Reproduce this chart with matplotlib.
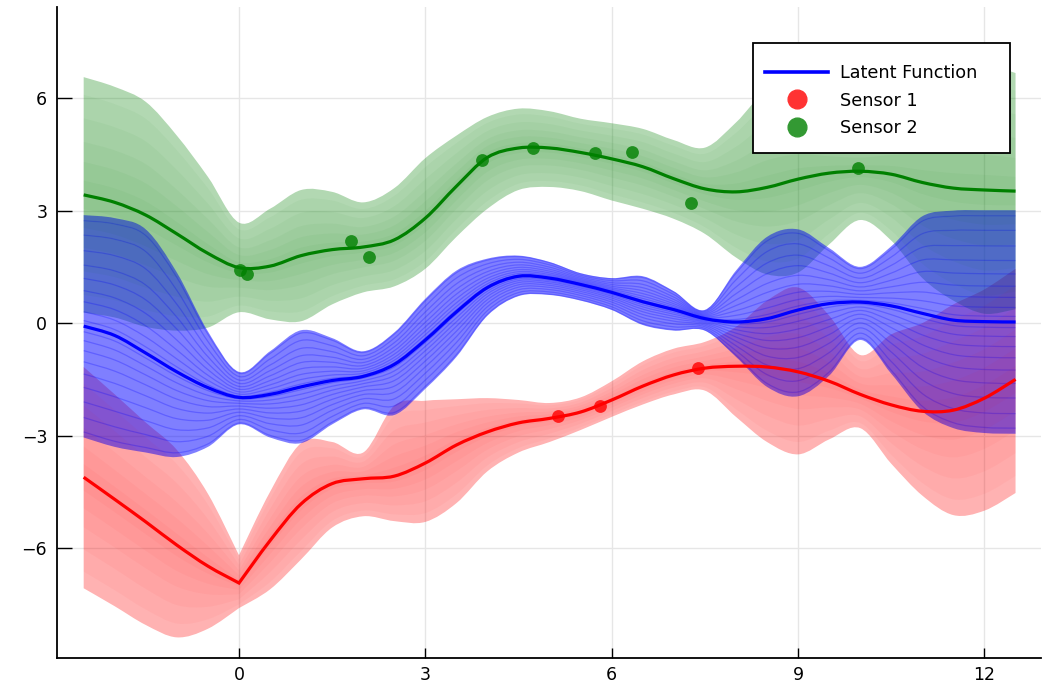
import numpy as np
import matplotlib
matplotlib.use("Agg")
import matplotlib.pyplot as plt
from matplotlib.lines import Line2D
from matplotlib.path import Path
from matplotlib.patches import PathPatch, Rectangle

# ---------------- data ----------------
x_grid = [-2.5, -2.0, -1.5, -1.0, -0.5, 0.0, 0.5, 1.0, 1.5, 2.0, 2.5, 3.0, 3.5,
          4.0, 4.5, 5.0, 5.5, 6.0, 6.5, 7.0, 7.5, 8.0, 8.5, 9.0, 9.5, 10.0,
          10.5, 11.0, 11.5, 12.0, 12.5]

latent_mean = [-0.08, -0.33, -0.80, -1.30, -1.72, -1.98, -1.90, -1.70, -1.53, -1.42,
               -1.10, -0.45, 0.30, 0.95, 1.25, 1.20, 1.03, 0.82, 0.57, 0.36, 0.12,
               0.03, 0.12, 0.35, 0.52, 0.56, 0.46, 0.26, 0.08, 0.04, 0.03]
latent_upper = [2.88, 2.80, 2.50, 1.35, -0.22, -1.30, -0.75, -0.19, -0.40, -0.75,
                -0.25, 0.65, 1.40, 1.72, 1.80, 1.63, 1.33, 1.20, 1.25, 0.85, 0.35,
                1.40, 2.30, 2.50, 2.00, 1.50, 2.05, 2.85, 3.00, 3.01, 3.01]
latent_lower = [-3.05, -3.30, -3.45, -3.57, -3.30, -2.70, -3.05, -3.20, -2.70, -2.30,
                -2.45, -1.75, -0.90, 0.20, 0.72, 0.75, 0.60, 0.35, -0.05, -0.20, -0.20,
                -0.90, -1.70, -1.95, -1.40, -0.45, -1.35, -2.35, -2.80, -2.93, -2.95]

s1_mean = [-4.11, -4.70, -5.30, -5.92, -6.48, -6.93, -5.80, -4.82, -4.28, -4.15,
           -4.08, -3.73, -3.25, -2.90, -2.66, -2.54, -2.37, -2.05, -1.68, -1.38, -1.20,
           -1.15, -1.17, -1.30, -1.55, -1.90, -2.18, -2.35, -2.32, -2.00, -1.50]
s1_upper = [-1.17, -1.90, -2.65, -3.38, -4.55, -6.19, -4.50, -3.20, -3.17, -3.45,
            -2.20, -2.07, -2.03, -2.00, -2.05, -2.13, -1.98, -1.55, -1.02, -0.68, -0.50,
            -0.10, 0.60, 0.95, 0.20, -0.85, -0.30, 0.00, 0.50, 0.90, 1.45]
s1_lower = [-7.07, -7.55, -8.05, -8.38, -8.15, -7.60, -7.10, -6.30, -5.45, -5.15,
            -5.28, -5.30, -4.80, -3.95, -3.45, -3.17, -2.85, -2.50, -2.17, -1.90, -1.80,
            -2.50, -3.17, -3.50, -3.10, -2.80, -3.75, -4.60, -5.12, -5.00, -4.53]

s2_mean = [3.42, 3.22, 2.88, 2.38, 1.86, 1.48, 1.52, 1.80, 1.96, 2.03,
           2.22, 2.80, 3.65, 4.42, 4.67, 4.67, 4.55, 4.38, 4.17, 3.85, 3.58,
           3.50, 3.62, 3.84, 4.00, 4.05, 3.97, 3.75, 3.60, 3.55, 3.52]
s2_upper = [6.56, 6.30, 5.90, 5.00, 3.90, 2.68, 3.05, 3.55, 3.50, 3.22,
            3.60, 4.40, 5.00, 5.50, 5.72, 5.65, 5.45, 5.33, 5.18, 4.88, 4.68,
            5.35, 6.20, 6.20, 5.60, 5.35, 5.80, 6.50, 6.90, 6.90, 6.67]
s2_lower = [0.28, 0.15, -0.10, -0.20, -0.12, 0.29, 0.10, 0.05, 0.50, 0.82,
            0.98, 1.45, 2.30, 3.05, 3.55, 3.63, 3.52, 3.27, 3.05, 2.78, 2.38,
            1.75, 1.30, 1.35, 2.10, 2.75, 2.20, 1.20, 0.60, 0.25, 0.37]

s1_obs_x = [5.14, 5.81, 7.39]
s1_obs_y = [-2.48, -2.21, -1.20]
s2_obs_x = [0.02, 0.13, 1.80, 2.09, 3.91, 4.73, 5.73, 6.33, 7.28, 9.97]
s2_obs_y = [1.41, 1.31, 2.19, 1.76, 4.35, 4.67, 4.53, 4.56, 3.20, 4.13]

x_ticks = [0, 3, 6, 9, 12]
y_ticks = [-6, -3, 0, 3, 6]
legend_labels = ["Latent Function", "Sensor 1", "Sensor 2"]


# ---------------- smooth (Bezier) rendering helpers ----------------
def bezier_segments(xs, ys, sharp=()):
    """Vertices/codes of a smooth Catmull-Rom style Bezier path through the points."""
    P = np.column_stack([xs, ys]).astype(float)
    n = len(P)
    verts = [P[0]]
    codes = [Path.MOVETO]
    for i in range(n - 1):
        p0 = P[i - 1] if i > 0 else P[i]
        p1, p2 = P[i], P[i + 1]
        p3 = P[i + 2] if i + 2 < n else P[i + 1]
        if i in sharp:
            p0 = p1
        if (i + 1) in sharp:
            p3 = p2
        c1 = p1 + (p2 - p0) / 6.0
        c2 = p2 - (p3 - p1) / 6.0
        verts += [c1, c2, p2]
        codes += [Path.CURVE4] * 3
    return verts, codes


def smooth_line(ax, xs, ys, sharp=(), **kw):
    v, c = bezier_segments(xs, ys, sharp)
    ax.add_patch(PathPatch(Path(v, c), fill=False, **kw))


def smooth_band(ax, xs, lo, hi, sharp=(), **kw):
    vu, cu = bezier_segments(xs, hi, sharp)
    vl, cl = bezier_segments(xs[::-1], lo[::-1],
                             tuple(len(xs) - 1 - s for s in sharp))
    cl = [Path.LINETO] + cl[1:]
    verts = vu + vl + [vu[0]]
    codes = cu + cl + [Path.CLOSEPOLY]
    ax.add_patch(PathPatch(Path(verts, codes), lw=0, **kw))


# ---------------- figure ----------------
plt.rcParams['font.family'] = ['DejaVu Sans']
fig = plt.figure(figsize=(10.51, 6.85), dpi=100)
ax = fig.add_axes([0.0542, 0.0394, 0.9363, 0.9504])

X = np.array(x_grid)
lm, lu, ll = map(np.array, (latent_mean, latent_upper, latent_lower))
r_m, r_u, r_l = map(np.array, (s1_mean, s1_upper, s1_lower))
g_m, g_u, g_l = map(np.array, (s2_mean, s2_upper, s2_lower))
cusp = (x_grid.index(0.0),)

RED = (1.0, 0.0, 0.0)
GREEN = (0.0, 0.5, 0.0)
BLUE = (0.0, 0.0, 1.0)

# sensor bands
smooth_band(ax, X, r_l, r_u, sharp=cusp, facecolor=RED, alpha=0.3, zorder=1)
smooth_band(ax, X, g_l, g_u, facecolor=GREEN, alpha=0.3, zorder=1)

# latent band
smooth_band(ax, X, ll, lu, facecolor=BLUE, alpha=0.5, zorder=2)
# posterior-sample texture inside the latent band
for f in [0.05, 0.13, 0.22, 0.32, 0.43, 0.55, 0.68, 0.82, 0.95]:
    smooth_line(ax, X, lm + f * (lu - lm), edgecolor=BLUE, alpha=0.25, lw=0.9, zorder=3)
    smooth_line(ax, X, lm - f * (lm - ll), edgecolor=BLUE, alpha=0.25, lw=0.9, zorder=3)

# sensor noise-sample texture (denser near the mean)
for f in [0.85, 0.65, 0.45, 0.28, 0.12]:
    smooth_band(ax, X, r_m - f * (r_m - r_l), r_m + f * (r_u - r_m), sharp=cusp,
                facecolor=RED, alpha=0.035, zorder=4)
    smooth_band(ax, X, g_m - f * (g_m - g_l), g_m + f * (g_u - g_m),
                facecolor=GREEN, alpha=0.04, zorder=4)

# mean lines
smooth_line(ax, X, lm, edgecolor=BLUE, lw=2.3, zorder=5)
smooth_line(ax, X, r_m, sharp=cusp, edgecolor=RED, lw=2.3, zorder=5)
smooth_line(ax, X, g_m, edgecolor=GREEN, lw=2.3, zorder=5)

# observations
ax.scatter(s1_obs_x, s1_obs_y, s=85, color=RED, alpha=0.8, lw=0, zorder=6)
ax.scatter(s2_obs_x, s2_obs_y, s=85, color=GREEN, alpha=0.8, lw=0, zorder=6)

# axes
ax.set_xlim(-2.93, 12.91)
ax.set_ylim(-8.93, 8.43)
ax.set_xticks(x_ticks)
ax.set_yticks(y_ticks)
ax.grid(True, color='#e6e6e6', lw=1.0, zorder=0)
ax.set_axisbelow(True)
for s in ['top', 'right']:
    ax.spines[s].set_visible(False)
for s in ['left', 'bottom']:
    ax.spines[s].set_linewidth(1.3)
ax.tick_params(axis='y', direction='in', length=10.5, width=1.0, pad=7, labelsize=12.5)
ax.tick_params(axis='x', direction='in', length=7.2, width=1.0, pad=6, labelsize=12.5)

# legend: explicit frame + frameless legend content
frame = Rectangle((0.707, 0.7757), 0.2615, 0.169, transform=ax.transAxes,
                  facecolor='white', edgecolor='black', lw=1.3, zorder=9)
ax.add_patch(frame)
handles = [Line2D([0], [0], color=BLUE, lw=2.6),
           Line2D([0], [0], marker='o', color=(1, 0.2, 0.2), lw=0, markersize=13.5),
           Line2D([0], [0], marker='o', color=(0.2, 0.6, 0.2), lw=0, markersize=13.5)]
leg = ax.legend(handles, legend_labels, loc='upper left',
                bbox_to_anchor=(0.7195, 0.9125), borderaxespad=0, borderpad=0,
                fontsize=12.7, handlelength=3.6, handletextpad=0.68,
                labelspacing=0.55, frameon=False)
leg.set_zorder(10)

fig.savefig("out.png", dpi=100)
